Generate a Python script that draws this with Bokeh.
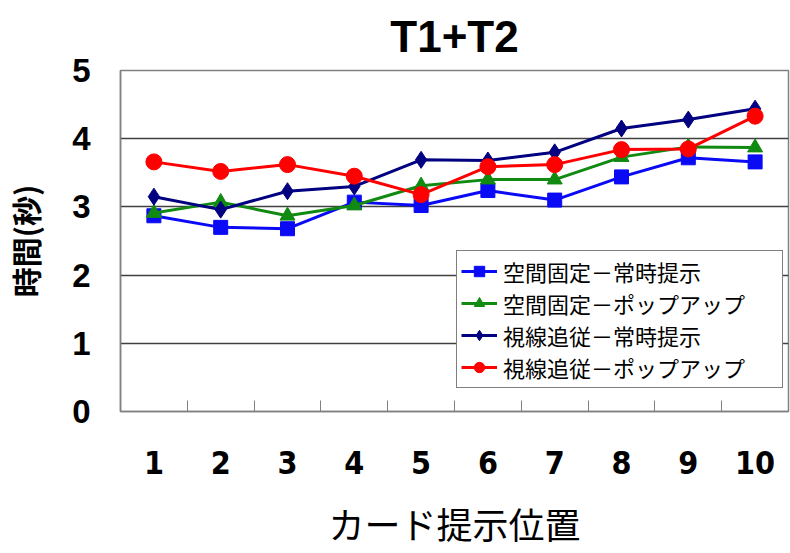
from bokeh.plotting import figure
from bokeh.models import FixedTicker, Range1d, Legend
from bokeh.embed import file_html
from bokeh.resources import INLINE

positions = [1, 2, 3, 4, 5, 6, 7, 8, 9, 10]
tick_labels = {i: str(i) for i in positions}
chart_title = "T1+T2"

series_names = ["空間固定－常時提示", "空間固定－ポップアップ", "視線追従－常時提示", "視線追従－ポップアップ"]
fixed_always = [2.87, 2.70, 2.68, 3.07, 3.02, 3.24, 3.10, 3.44, 3.72, 3.66]
fixed_popup = [2.91, 3.07, 2.87, 3.02, 3.31, 3.40, 3.40, 3.73, 3.88, 3.87]
gaze_always = [3.15, 2.96, 3.23, 3.30, 3.69, 3.68, 3.80, 4.15, 4.28, 4.44]
gaze_popup = [3.66, 3.52, 3.62, 3.45, 3.18, 3.59, 3.62, 3.84, 3.85, 4.33]

p = figure(width=790, height=553, output_backend="svg", toolbar_location=None,
           x_range=Range1d(0.5, 10.5), y_range=Range1d(0, 5),
           min_border_left=120, min_border_right=2, min_border_bottom=142, min_border_top=70)

p.title.text = chart_title
p.title.align = "center"
p.title.text_font = "Liberation Sans"
p.title.text_font_style = "bold"
p.title.text_font_size = "44px"
p.title.text_color = "black"
p.title.standoff = 19

p.outline_line_color = "#808080"
p.outline_line_width = 1.5
p.background_fill_color = "white"
p.border_fill_color = "white"

# x axis
xa = p.xaxis[0]
xa.ticker = FixedTicker(ticks=positions, minor_ticks=[i + 0.5 for i in range(0, 11)])
xa.major_label_overrides = tick_labels
xa.major_tick_line_color = None
xa.minor_tick_in = 11
xa.minor_tick_out = 0
xa.minor_tick_line_color = "#808080"
xa.axis_line_color = "#808080"
xa.axis_line_width = 1.5
xa.major_label_standoff = 33
xa.major_label_text_font = "DejaVu Sans Condensed"
xa.major_label_text_font_style = "bold"
xa.major_label_text_font_size = "32px"
xa.major_label_text_color = "black"
xa.axis_label = "カード提示位置"
xa.axis_label_text_font = "Noto Sans CJK JP"
xa.axis_label_text_font_style = "normal"
xa.axis_label_text_font_size = "36px"
xa.axis_label_standoff = 20
xa.axis_label_text_color = "black"

# y axis
ya = p.yaxis[0]
ya.ticker = FixedTicker(ticks=[0, 1, 2, 3, 4, 5])
ya.major_tick_line_color = None
ya.minor_tick_line_color = None
ya.axis_line_color = "#808080"
ya.axis_line_width = 1.5
ya.major_label_standoff = 24
ya.major_label_text_font = "Liberation Sans"
ya.major_label_text_font_style = "bold"
ya.major_label_text_font_size = "33px"
ya.major_label_text_color = "black"
ya.axis_label = "時間(秒)"
ya.axis_label_text_font = "Noto Sans CJK JP"
ya.axis_label_text_font_style = "bold"
ya.axis_label_text_font_size = "30px"
ya.axis_label_standoff = 22
ya.axis_label_text_color = "black"

p.xgrid.grid_line_color = None
p.ygrid.ticker = FixedTicker(ticks=[1, 2, 3, 4])
p.ygrid.grid_line_color = "#404040"
p.ygrid.grid_line_width = 1.5

colors = ["#0A0AF5", "#118A11", "#000080", "#FF0000"]
data = [fixed_always, fixed_popup, gaze_always, gaze_popup]
sizes = {"square": 14, "triangle": 15, "diamond": 17, "circle": 16}
items = []
for name, vals, col, mk in zip(series_names, data, colors, ["square", "triangle", "diamond", "circle"]):
    r1 = p.line(positions, vals, line_color=col, line_width=3)
    r2 = p.scatter(positions, vals, marker=mk, size=sizes[mk], fill_color=col, line_color=col)
    items.append((name, [r1, r2]))

legend = Legend(items=items, location=(336, 23))
legend.label_text_font = "Noto Sans CJK JP"
legend.label_text_font_size = "22px"
legend.label_text_color = "black"
legend.border_line_color = "black"
legend.border_line_width = 1.5
legend.background_fill_color = "white"
legend.background_fill_alpha = 1
legend.glyph_width = 36
legend.glyph_height = 26
legend.label_height = 26
legend.label_width = 275
legend.label_standoff = 6
legend.spacing = 0
legend.padding = 4
legend.margin = 0
p.add_layout(legend, "center")

open("out.html", "w").write(file_html(p, INLINE))
